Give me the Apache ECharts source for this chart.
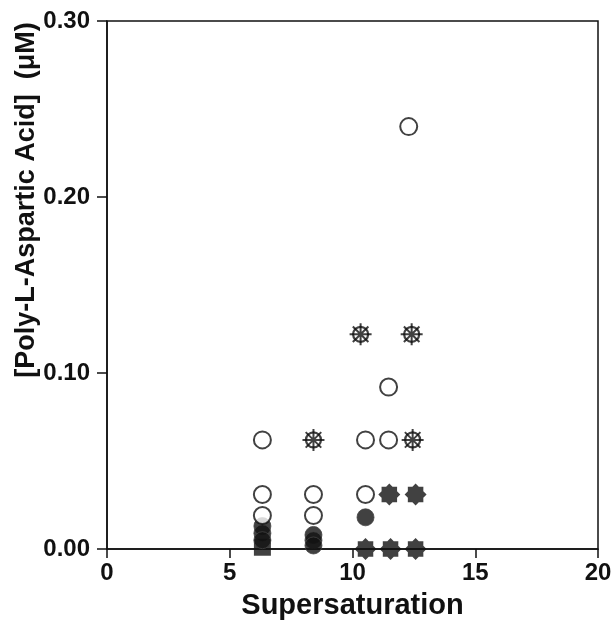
<!DOCTYPE html>
<html>
<head>
<meta charset="utf-8">
<script src="https://cdn.jsdelivr.net/npm/echarts@6/dist/echarts.min.js"></script>
<style>
  html, body { margin: 0; padding: 0; background: #fff; }
  #main { width: 616px; height: 621px; }
</style>
</head>
<body>
<div id="main"></div>
<script>
// x = supersaturation, y = [Poly-L-Aspartic Acid] (uM)
var openCircles = [
  [6.33, 0.062], [6.33, 0.031], [6.33, 0.019],
  [8.41, 0.031], [8.41, 0.019],
  [10.53, 0.062], [10.53, 0.031],
  [11.47, 0.092], [11.47, 0.062],
  [12.29, 0.240]
];
var filledCircles = [
  [6.33, 0.013], [6.33, 0.009], [6.33, 0.005],
  [8.41, 0.008], [8.41, 0.005], [8.41, 0.002],
  [10.53, 0.018]
];
var filledSquares = [
  [6.33, 0.001]
];
var openStars = [
  [8.41, 0.062],
  [10.33, 0.122],
  [12.41, 0.122], [12.45, 0.062]
];
var filledStars = [
  [11.5, 0.031], [12.57, 0.031],
  [10.53, 0.0], [11.55, 0.0], [12.57, 0.0]
];
var xTicks = [0, 5, 10, 15, 20];
var yTicks = [0, 0.1, 0.2, 0.3];

var FONT = '"Liberation Sans", Arial, sans-serif';
var INK = '#111';

// spiky sun-like filled symbol
function starPath() {
  var pts = [];
  for (var i = 0; i < 16; i++) {
    var r = i % 2 === 0 ? 10 : 7.6;
    var a = Math.PI * i / 8 - Math.PI / 2;
    pts.push((10 + r * Math.cos(a)).toFixed(2) + ' ' + (10 + r * Math.sin(a)).toFixed(2));
  }
  return 'path://M' + pts.join(' L') + ' Z';
}
// eight spokes for the open "wheel" symbol
function spokePath() {
  var s = [];
  for (var i = 0; i < 4; i++) {
    var a = Math.PI * i / 4;
    var dx = 10 * Math.cos(a), dy = 10 * Math.sin(a);
    s.push('M' + (10 + dx).toFixed(2) + ' ' + (10 + dy).toFixed(2) + ' L' + (10 - dx).toFixed(2) + ' ' + (10 - dy).toFixed(2));
  }
  return 'path://' + s.join(' ');
}

var chart = echarts.init(document.getElementById('main'));
chart.setOption({
  backgroundColor: '#fff',
  animation: false,
  grid: {
    left: 107, top: 21, width: 491, height: 528,
    outerBoundsMode: 'none',
    show: true, borderColor: INK, borderWidth: 1.5, backgroundColor: 'transparent'
  },
  xAxis: {
    type: 'value', min: 0, max: 20, interval: 5,
    name: 'Supersaturation', nameLocation: 'middle', nameGap: 42,
    nameTextStyle: { fontFamily: FONT, fontWeight: 'bold', fontSize: 29, color: INK },
    axisLine: { lineStyle: { color: INK, width: 1.5 } },
    axisTick: { length: 9, lineStyle: { color: INK, width: 1.5 } },
    axisLabel: {
      margin: 12, fontFamily: FONT, fontWeight: 'bold', fontSize: 24, color: INK,
      formatter: function (v) { return xTicks.indexOf(v) >= 0 ? String(v) : ''; }
    },
    splitLine: { show: false }
  },
  yAxis: {
    type: 'value', min: 0, max: 0.3, interval: 0.1,
    axisLine: { lineStyle: { color: INK, width: 1.5 } },
    axisTick: { length: 10, lineStyle: { color: INK, width: 1.5 } },
    axisLabel: {
      margin: 17, fontFamily: FONT, fontWeight: 'bold', fontSize: 24, color: INK,
      formatter: function (v) { return v.toFixed(2); }
    },
    splitLine: { show: false }
  },
  graphic: [{
    type: 'text', x: 27, y: 200, rotation: Math.PI / 2,
    style: {
      text: '[Poly-L-Aspartic Acid]  (\u03bcM)',
      font: 'bold 27px ' + FONT, fill: INK,
      align: 'center', verticalAlign: 'middle'
    }
  }],
  series: [
    {
      type: 'scatter', data: filledSquares, symbol: 'rect', symbolSize: 17,
      itemStyle: { color: INK }
    },
    {
      type: 'scatter', data: filledCircles, symbol: 'circle', symbolSize: 17,
      itemStyle: { color: INK, borderColor: '#444', borderWidth: 1 }
    },
    {
      type: 'scatter', data: openCircles, symbol: 'circle', symbolSize: 17,
      itemStyle: { color: '#fff', borderColor: INK, borderWidth: 2 }
    },
    {
      type: 'scatter', data: openStars, symbol: spokePath(), symbolSize: 22,
      itemStyle: { color: 'rgba(0,0,0,0)', borderColor: INK, borderWidth: 2 }
    },
    {
      type: 'scatter', data: openStars, symbol: 'circle', symbolSize: 15,
      itemStyle: { color: 'rgba(0,0,0,0)', borderColor: INK, borderWidth: 2.2 }
    },
    {
      type: 'scatter', data: filledStars, symbol: starPath(), symbolSize: 22,
      itemStyle: { color: INK }
    }
  ]
});
</script>
</body>
</html>
